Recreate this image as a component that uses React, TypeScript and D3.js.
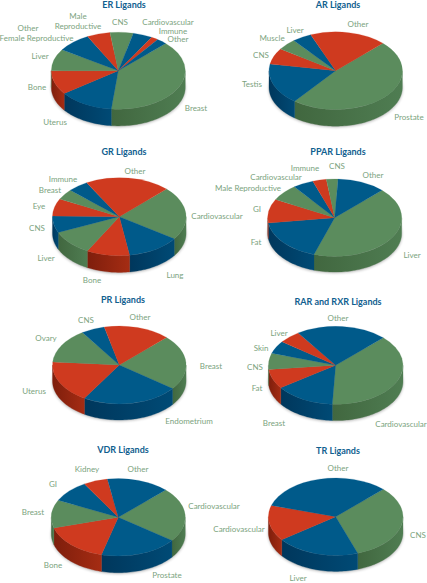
import React from 'react';
import * as d3 from 'd3';

// chart values (percent of each pie, clockwise from the upper right)
const erCategories = ['Breast', 'Uterus', 'Bone', 'Liver', 'Female Reproductive', 'Male Reproductive', 'CNS', 'Cardiovascular', 'Immune', 'Other'];
const erValues = [39.2, 13.3, 10, 9.2, 8.3, 5.6, 5.6, 4.7, 1.7, 2.5];
const erHues = ['g', 'b', 'r', 'g', 'b', 'r', 'g', 'b', 'r', 'b'];

const arCategories = ['Prostate', 'Testis', 'CNS', 'Muscle', 'Liver', 'Other'];
const arValues = [48, 17.2, 6.7, 4.7, 4.7, 18.6];
const arHues = ['g', 'b', 'r', 'g', 'b', 'r'];

const grCategories = ['Cardiovascular', 'Lung', 'Bone', 'Liver', 'CNS', 'Eye', 'Breast', 'Immune', 'Other'];
const grValues = [22.1, 12.9, 10.4, 10.4, 6.9, 7.2, 4.4, 5, 20.6];
const grHues = ['g', 'b', 'r', 'g', 'b', 'r', 'g', 'b', 'r'];

const pparCategories = ['Liver', 'Fat', 'GI', 'Male Reproductive', 'Cardiovascular', 'Immune', 'CNS', 'Other'];
const pparValues = [42.5, 17.8, 10, 6.9, 5, 3.3, 2.8, 11.7];
const pparHues = ['g', 'b', 'r', 'g', 'b', 'r', 'g', 'b'];

const prCategories = ['Breast', 'Endometrium', 'Uterus', 'Ovary', 'CNS', 'Other'];
const prValues = [22.8, 23.4, 17.5, 14.4, 5.7, 16.1];
const prHues = ['g', 'b', 'r', 'g', 'b', 'r'];

const rarCategories = ['Cardiovascular', 'Breast', 'Fat', 'CNS', 'Skin', 'Liver', 'Other'];
const rarValues = [38.3, 14.4, 8.1, 6.7, 5.3, 5.3, 21.9];
const rarHues = ['g', 'b', 'r', 'g', 'b', 'r', 'b'];

const vdrCategories = ['Cardiovascular', 'Prostate', 'Bone', 'Breast', 'GI', 'Kidney', 'Other'];
const vdrValues = [22.7, 18.8, 16.5, 11.7, 9.3, 5.8, 15.1];
const vdrHues = ['g', 'b', 'r', 'g', 'b', 'r', 'b'];

const trCategories = ['CNS', 'Liver', 'Cardiovascular', 'Other'];
const trValues = [32.2, 20.1, 14.9, 32.8];
const trHues = ['g', 'b', 'r', 'b'];

// layout, kept apart from the values: label centres match the category order above
const pies = [
  { title: 'ER Ligands', cats: erCategories, vals: erValues, hues: erHues, cx: 118.3, cy: 70.7, rx: 67, ry: 38.5, depth: 16.7, tx: 124, ty: 5,
    labels: [[196, 108], [55, 122], [37, 87], [40, 56], [36.5, 38], [78, 21], [120, 22], [168, 22.5], [173, 31], [178, 39.5]],
    extra: [[28, 28, 'Other']] },
  { title: 'AR Ligands', cats: arCategories, vals: arValues, hues: arHues, cx: 335.7, cy: 70.7, rx: 66.7, ry: 38.8, depth: 16.7, tx: 338, ty: 5,
    labels: [[409, 117], [252, 84], [261, 55], [272, 38], [295, 30], [358, 24]] },
  { title: 'GR Ligands', cats: grCategories, vals: grValues, hues: grHues, cx: 119.3, cy: 216.7, rx: 66.8, ry: 39, depth: 16.7, tx: 124, ty: 152,
    labels: [[217, 216], [175, 275], [92, 280], [46, 258], [37, 228], [39, 206], [50, 190], [63, 179], [135, 171]] },
  { title: 'PPAR Ligands', cats: pparCategories, vals: pparValues, hues: pparHues, cx: 334.7, cy: 217.7, rx: 67, ry: 38.7, depth: 15.7, tx: 338, ty: 152,
    labels: [[412, 255], [256, 242], [257, 209], [248, 188], [276, 177], [305, 168], [337, 166], [373, 175]] },
  { title: 'PR Ligands', cats: prCategories, vals: prValues, hues: prHues, cx: 119.3, cy: 365, rx: 66.8, ry: 39, depth: 16, tx: 123, ty: 300,
    labels: [[211, 366], [189, 421], [34, 391], [46, 338], [86, 320], [140, 317]] },
  { title: 'RAR and RXR Ligands', cats: rarCategories, vals: rarValues, hues: rarHues, cx: 335.7, cy: 365.3, rx: 67.3, ry: 39, depth: 16.3, tx: 338, ty: 302,
    labels: [[401, 424], [274, 423], [257, 388], [255, 367], [261, 348], [279, 333], [338, 318]] },
  { title: 'VDR Ligands', cats: vdrCategories, vals: vdrValues, hues: vdrHues, cx: 118.3, cy: 517.3, rx: 67, ry: 38.7, depth: 16.7, tx: 123, ty: 450,
    labels: [[214, 506], [167, 575], [53, 565], [33, 512], [53, 484], [87, 469], [138, 469]] },
  { title: 'TR Ligands', cats: trCategories, vals: trValues, hues: trHues, cx: 335.7, cy: 516.7, rx: 67.3, ry: 38.7, depth: 16, tx: 338, ty: 451,
    labels: [[418, 535], [298, 578], [239, 529], [338, 468]] }
];

const topColor = { g: '#5b8c5d', b: '#005a8a', r: '#cf3a1f' };
const sideStops = {
  g: ['#41673f', '#4f7d52'],
  b: ['#00375c', '#004a75'],
  r: ['#7e1e0c', '#a52c13']
};
const labelColor = '#7ba37e';
const titleColor = '#10608f';
const font = 'Lato, "Open Sans", sans-serif';
const labelSize = 8;
const startAngle = Math.PI / 4;

const FRONT_FROM = Math.PI / 2;
const FRONT_TO = (3 * Math.PI) / 2;

function wallPath(a0, a1, p) {
  const from = Math.max(a0, FRONT_FROM);
  const to = Math.min(a1, FRONT_TO);
  if (to <= from) return null;
  const angles = d3.range(from, to, 0.03).concat([to]);
  const top = angles.map(a => [p.rx * Math.sin(a), -p.ry * Math.cos(a)]);
  const bottom = top.map(d => [d[0], d[1] + p.depth]).reverse();
  return d3.line()(top.concat(bottom)) + 'Z';
}

function Pie({ p }) {
  const arcs = d3
    .pie()
    .sort(null)
    .startAngle(startAngle)
    .endAngle(startAngle + 2 * Math.PI)(p.vals);
  const arc = d3.arc().innerRadius(0).outerRadius(p.rx);

  return (
    <g>
      <text x={p.tx} y={p.ty} dy="0.35em" textAnchor="middle" fontSize={9} fontWeight={700} fill={titleColor}>
        {p.title}
      </text>
      <g transform={`translate(${p.cx},${p.cy})`}>
        <ellipse cx={0} cy={p.depth + 1} rx={p.rx} ry={p.ry} fill="#000" opacity={0.3} filter="url(#soft)" />
        {arcs.map((d, i) => {
          const wall = wallPath(d.startAngle, d.endAngle, p);
          return wall ? (
            <path key={i} d={wall} fill={`url(#side-${p.hues[i]})`} stroke={`url(#side-${p.hues[i]})`} strokeWidth={0.3} />
          ) : null;
        })}
        <g transform={`scale(1,${p.ry / p.rx})`}>
          {arcs.map((d, i) => (
            <path key={i} d={arc(d)} fill={topColor[p.hues[i]]} stroke={topColor[p.hues[i]]} strokeWidth={0.25} />
          ))}
        </g>
      </g>
      {p.cats.map((c, i) => {
        const words = c === 'Male Reproductive' && p.title === 'ER Ligands' ? ['Male', 'Reproductive'] : [c];
        return (
          <text key={c} x={p.labels[i][0]} y={p.labels[i][1]} textAnchor="middle" fontSize={labelSize} fill={labelColor}>
            {words.map((w, j) => (
              <tspan key={w} x={p.labels[i][0]} dy={j === 0 ? (words.length > 1 ? '-0.25em' : '0.35em') : '1.2em'}>
                {w}
              </tspan>
            ))}
          </text>
        );
      })}
      {(p.extra || []).map(e => (
        <text key={e[2]} x={e[0]} y={e[1]} dy="0.35em" textAnchor="middle" fontSize={labelSize} fill={labelColor}>
          {e[2]}
        </text>
      ))}
    </g>
  );
}

export default function App() {
  return (
    <svg
      width={427}
      height={583}
      viewBox="0 0 427 583"
      fontFamily={font}
      style={{ position: 'absolute', left: 0, top: 0, background: '#fff' }}
    >
      <defs>
        <filter id="soft" x="-20%" y="-20%" width="140%" height="140%">
          <feGaussianBlur stdDeviation="1.6" />
        </filter>
        {Object.keys(sideStops).map(k => (
          <linearGradient key={k} id={`side-${k}`} x1="0" x2="1" y1="0" y2="0">
            <stop offset="0" stopColor={sideStops[k][0]} />
            <stop offset="1" stopColor={sideStops[k][1]} />
          </linearGradient>
        ))}
      </defs>
      {pies.map(p => (
        <Pie key={p.title} p={p} />
      ))}
    </svg>
  );
}
